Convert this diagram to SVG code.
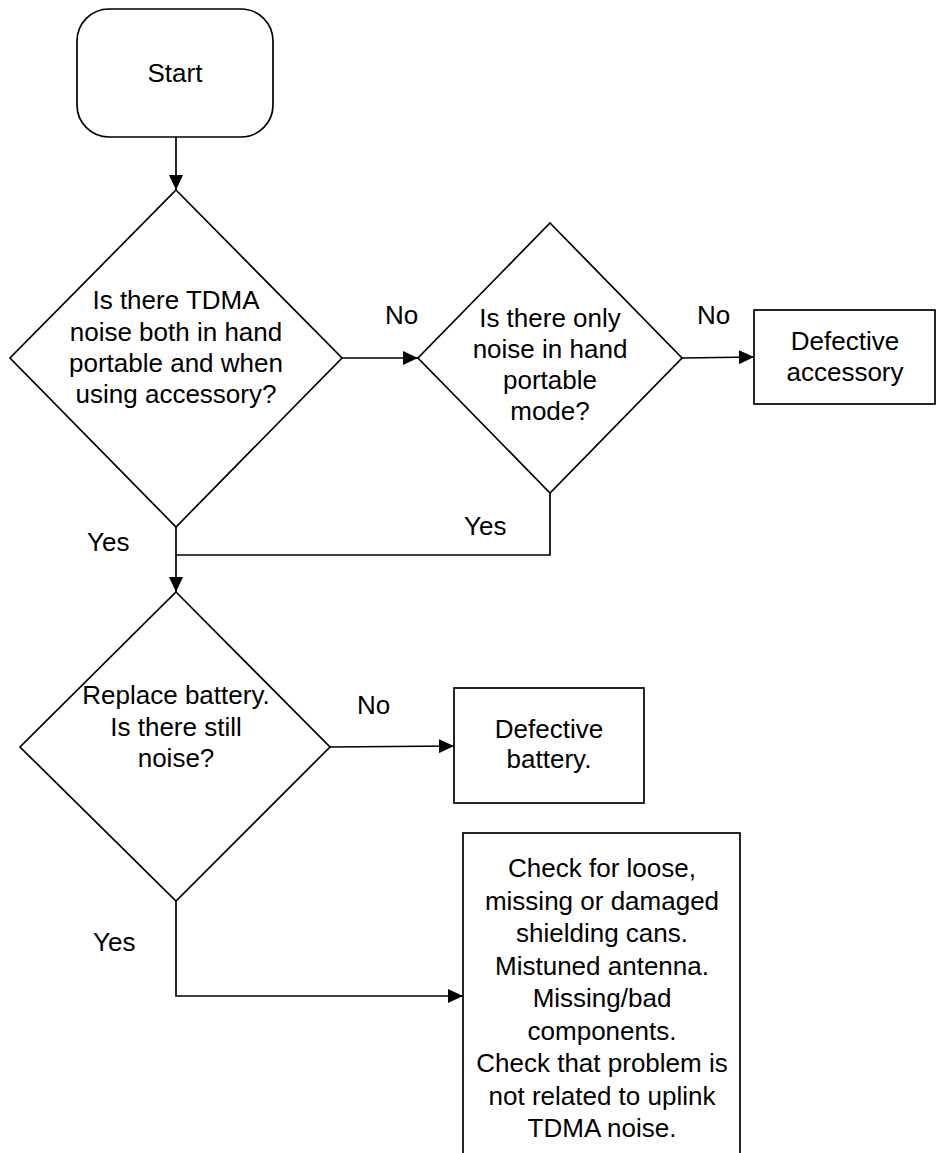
<svg xmlns="http://www.w3.org/2000/svg" width="936" height="1153" viewBox="0 0 936 1153">
  <style>
    .shape { fill: #ffffff; stroke: #000000; stroke-width: 1.7; }
    .wire { fill: none; stroke: #000000; stroke-width: 1.7; }
    text { font-family: "Liberation Sans", Arial, sans-serif; font-size: 26px; fill: #000000; }
    .c { text-anchor: middle; }
  </style>
  <defs>
    <marker id="arrow" markerUnits="userSpaceOnUse" markerWidth="16" markerHeight="14" refX="15" refY="7" orient="auto">
      <path d="M0,0 L15,7 L0,14 z" fill="#000000"/>
    </marker>
  </defs>
  <rect width="936" height="1153" fill="#ffffff"/>

  <!-- connectors -->
  <g id="connectors">
    <line class="wire" x1="176" y1="137" x2="176" y2="190" marker-end="url(#arrow)"/>
    <line class="wire" x1="342" y1="358" x2="418" y2="358" marker-end="url(#arrow)"/>
    <line class="wire" x1="682" y1="358" x2="754" y2="357" marker-end="url(#arrow)"/>
    <polyline class="wire" points="550,493 550,555 176,555"/>
    <line class="wire" x1="176" y1="527" x2="176" y2="592" marker-end="url(#arrow)"/>
    <line class="wire" x1="330" y1="747" x2="454" y2="746" marker-end="url(#arrow)"/>
    <polyline class="wire" points="176,901 176,996 463,996" marker-end="url(#arrow)"/>
    <text x="385" y="324">No</text>
    <text x="697" y="324">No</text>
    <text x="87" y="551">Yes</text>
    <text x="464" y="535">Yes</text>
    <text x="357" y="714">No</text>
    <text x="93" y="951">Yes</text>
  </g>

  <!-- start terminal -->
  <g id="start">
    <rect class="shape" x="77" y="9" width="196" height="128" rx="32" ry="32"/>
    <text class="c" x="175" y="82">Start</text>
  </g>

  <!-- decision: noise in both modes -->
  <g id="decision-both">
    <polygon class="shape" points="176,190 342,358 176,527 10,358"/>
    <text class="c" x="176" y="309">Is there TDMA</text>
    <text class="c" x="176" y="341">noise both in hand</text>
    <text class="c" x="176" y="372">portable and when</text>
    <text class="c" x="176" y="403">using accessory?</text>
  </g>

  <!-- decision: only hand portable -->
  <g id="decision-portable">
    <polygon class="shape" points="550,223 682,358 550,493 418,358"/>
    <text class="c" x="550" y="327">Is there only</text>
    <text class="c" x="550" y="358">noise in hand</text>
    <text class="c" x="550" y="389">portable</text>
    <text class="c" x="550" y="420">mode?</text>
  </g>

  <!-- result: accessory -->
  <g id="defective-accessory">
    <rect class="shape" x="754" y="310" width="181" height="94"/>
    <text class="c" x="845" y="350">Defective</text>
    <text class="c" x="845" y="381">accessory</text>
  </g>

  <!-- decision: battery -->
  <g id="decision-battery">
    <polygon class="shape" points="176,592 330,747 176,901 20,747"/>
    <text class="c" x="176" y="704">Replace battery.</text>
    <text class="c" x="176" y="736">Is there still</text>
    <text class="c" x="176" y="767">noise?</text>
  </g>

  <!-- result: battery -->
  <g id="defective-battery">
    <rect class="shape" x="454" y="688" width="190" height="115"/>
    <text class="c" x="549" y="738">Defective</text>
    <text class="c" x="549" y="768">battery.</text>
  </g>

  <!-- result: hardware checks -->
  <g id="hardware-check">
    <rect class="shape" x="463" y="833" width="277" height="340"/>
    <text class="c" x="602" y="877">Check for loose,</text>
    <text class="c" x="602" y="909.5">missing or damaged</text>
    <text class="c" x="602" y="942">shielding cans.</text>
    <text class="c" x="602" y="974.5">Mistuned antenna.</text>
    <text class="c" x="602" y="1007">Missing/bad</text>
    <text class="c" x="602" y="1039.5">components.</text>
    <text class="c" x="602" y="1072">Check that problem is</text>
    <text class="c" x="602" y="1104.5">not related to uplink</text>
    <text class="c" x="602" y="1137">TDMA noise.</text>
  </g>
</svg>
